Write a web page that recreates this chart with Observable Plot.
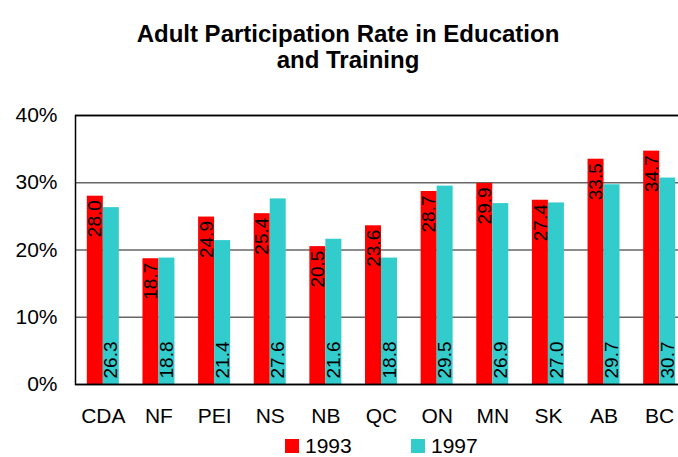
<!DOCTYPE html>
<html>
<head>
<meta charset="utf-8">
<script src="https://cdn.jsdelivr.net/npm/d3@7"></script>
<script src="https://cdn.jsdelivr.net/npm/@observablehq/plot@0.6"></script>
<style>
  body { margin: 0; background: #fff; font-family: "Liberation Sans", Arial, sans-serif; }
  #title { height: 100px; box-sizing: border-box; padding-top: 21px; padding-left: 18px; text-align: center; font-weight: bold; font-size: 24px; line-height: 26px; color: #000; }
  #chart svg { display: block; overflow: visible; }
  #legend { height: 22px; display: flex; align-items: center; margin-left: 285px; font-size: 21px; color: #000; }
  .sw { width: 14px; height: 14px; display: inline-block; margin-right: 6px; }
</style>
</head>
<body>
<div id="title">Adult Participation Rate in Education<br>and Training</div>
<div id="chart"></div>
<div id="legend">
  <span class="sw" style="background:#FF0000"></span><span style="width:106px">1993</span>
  <span class="sw" style="background:#33CCCC"></span><span>1997</span>
</div>
<script>
const provinces = ["CDA", "NF", "PEI", "NS", "NB", "QC", "ON", "MN", "SK", "AB", "BC"];
const v1993 = [28.0, 18.7, 24.9, 25.4, 20.5, 23.6, 28.7, 29.9, 27.4, 33.5, 34.7];
const v1997 = [26.3, 18.8, 21.4, 27.6, 21.6, 18.8, 29.5, 26.9, 27.0, 29.7, 30.7];
const yTicks = [0, 10, 20, 30, 40];
const gridLines = [10, 20, 30];

const d93 = provinces.map((p, i) => ({prov: p, value: v1993[i]}));
const d97 = provinces.map((p, i) => ({prov: p, value: v1997[i]}));

const W = 678, ML = 75, MR = -9;
const step = (W - ML - MR) / provinces.length;
const barW = 16;

const chart = Plot.plot({
  width: W,
  height: 335,
  marginTop: 15,
  marginLeft: ML,
  marginRight: MR,
  marginBottom: 51,
  style: {fontSize: "21px", fontFamily: "Liberation Sans, Arial, sans-serif", color: "#000", background: "transparent"},
  x: {domain: provinces, padding: 0, round: false, tickSize: 0, tickPadding: 24, label: null},
  y: {domain: [0, 40], ticks: yTicks, tickFormat: d => d + "%", tickSize: 0, tickPadding: 18, label: null},
  marks: [
    Plot.ruleY(gridLines, {stroke: "#666", strokeWidth: 1.5}),
    Plot.ruleY([40], {stroke: "#000", strokeWidth: 1.5}),
    Plot.barY(d93, {x: "prov", y: "value", fill: "#FF0000", insetLeft: step / 2 - barW, insetRight: step / 2}),
    Plot.barY(d97, {x: "prov", y: "value", fill: "#33CCCC", insetLeft: step / 2, insetRight: step / 2 - barW}),
    Plot.text(d93, {x: "prov", y: "value", text: d => d.value.toFixed(1), rotate: -90, textAnchor: "end", dx: -8, dy: 4, fontSize: 19, fill: "#000"}),
    Plot.text(d97, {x: "prov", y: () => 0, text: d => d.value.toFixed(1), rotate: -90, textAnchor: "start", dx: 8, dy: -6, fontSize: 19, fill: "#000"}),
    Plot.ruleY([0], {stroke: "#000", strokeWidth: 1.5}),
    Plot.frame({stroke: "#000", strokeWidth: 1.5})
  ]
});
document.getElementById("chart").appendChild(chart);
</script>
</body>
</html>
